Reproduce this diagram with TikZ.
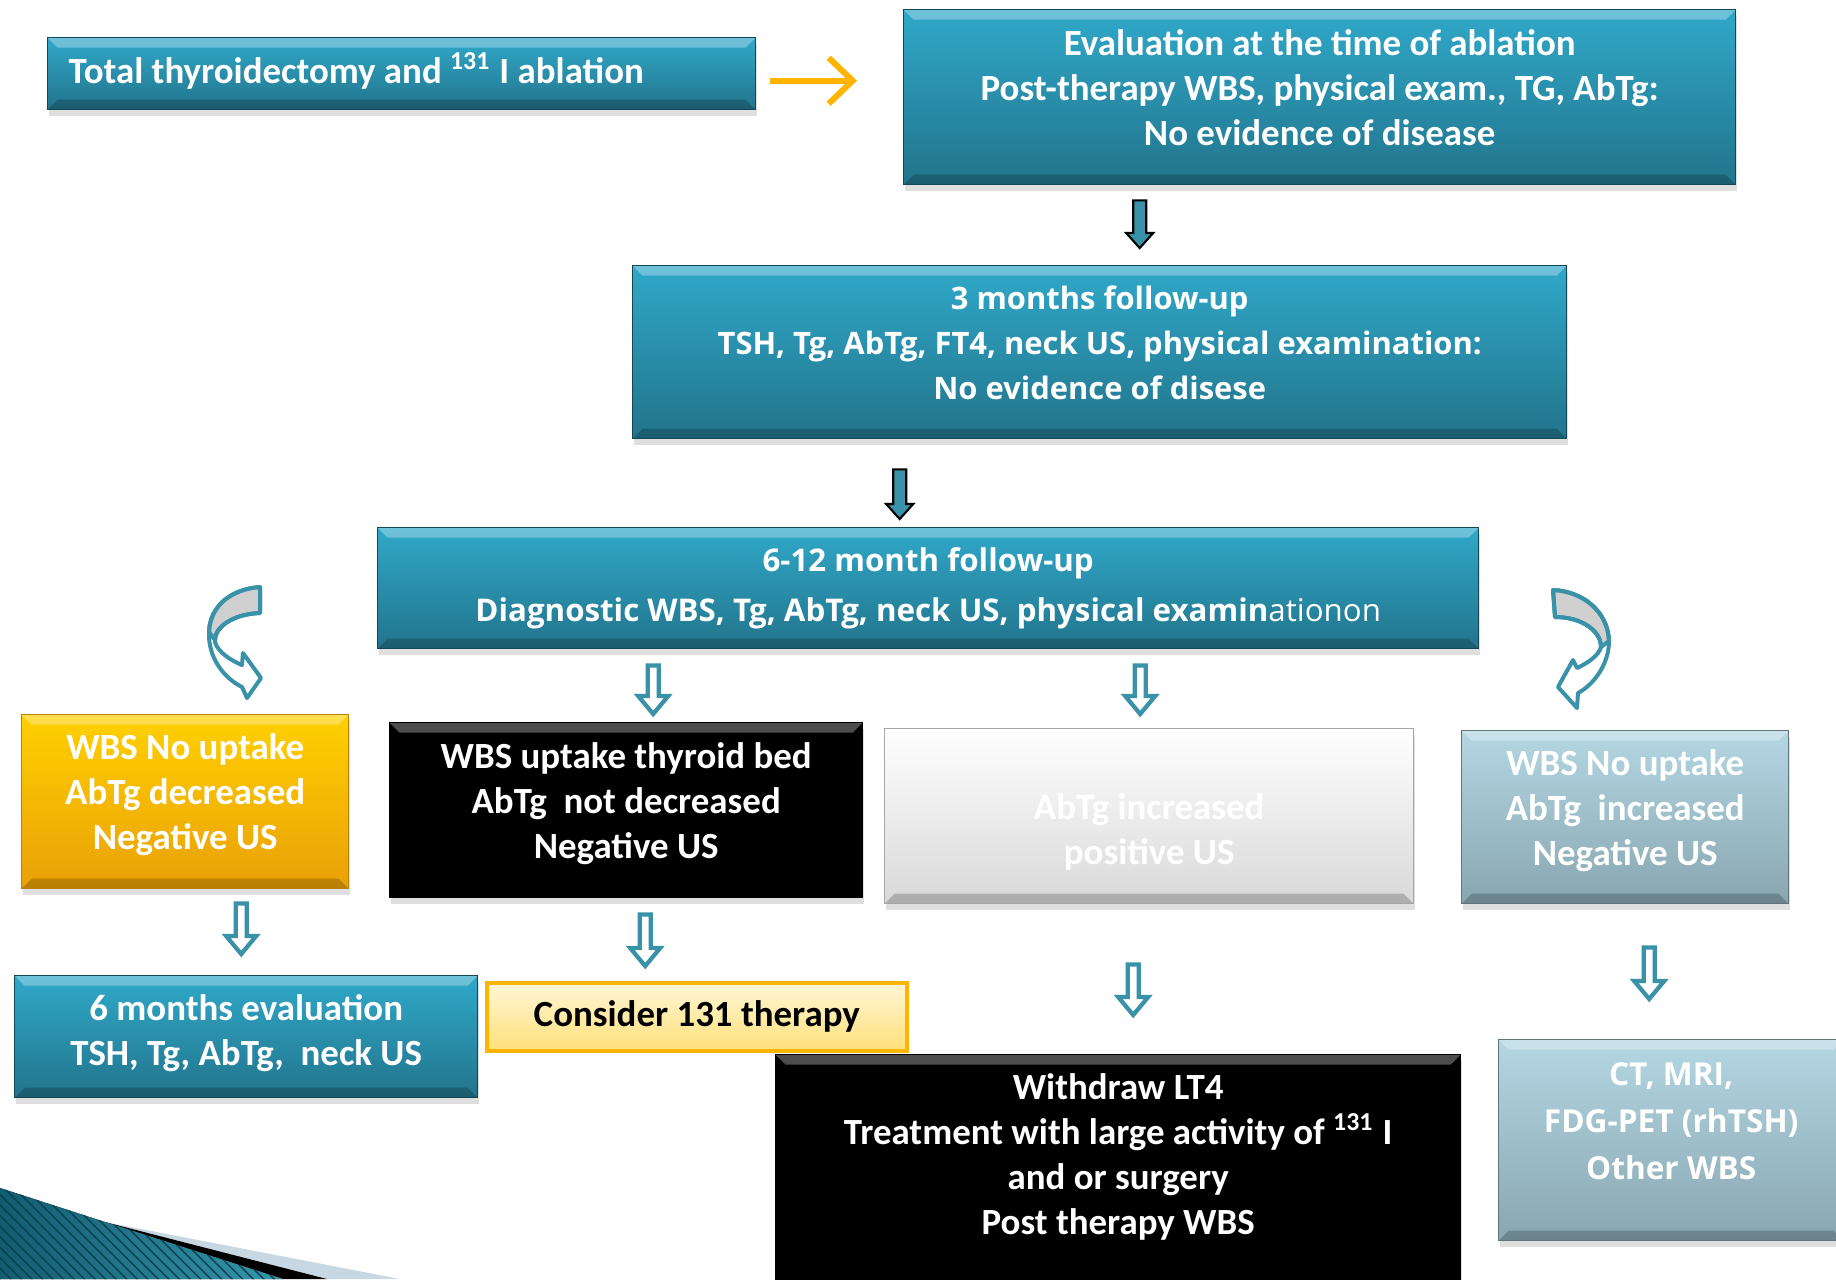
\documentclass[tikz,border=0pt]{standalone}
\usepackage{fontspec}
\setmainfont{Carlito}
\newfontfamily\widefont{Open Sans}
\usetikzlibrary{calc,shadows,patterns,arrows.meta}

\definecolor{tealtop}{RGB}{48,168,201}
\definecolor{tealbot}{RGB}{34,116,139}
\definecolor{tealline}{RGB}{58,146,168}
\definecolor{golden}{RGB}{255,208,0}
\definecolor{goldbot}{RGB}{233,160,8}
\definecolor{slatetop}{RGB}{180,215,227}
\definecolor{slatebot}{RGB}{136,166,176}
\definecolor{paletop}{RGB}{255,246,214}
\definecolor{palebot}{RGB}{255,224,122}
\definecolor{amber}{RGB}{255,180,0}
\definecolor{twistgray}{RGB}{208,208,208}
\definecolor{decodark}{RGB}{18,92,112}
\definecolor{decolight}{RGB}{52,150,172}
\definecolor{mist}{RGB}{200,216,226}

\newcommand\lift[2]{\raisebox{#1}[\height][\depth]{\begin{tabular}{@{}c@{}}#2\end{tabular}}}

\tikzset{
  bevel/.style={path picture={
      \fill[white, opacity=0.3] (path picture bounding box.north west) -- (path picture bounding box.north east)
        -- ([xshift=-1mm,yshift=-1mm]path picture bounding box.north east)
        -- ([xshift=1mm,yshift=-1mm]path picture bounding box.north west) -- cycle;
      \fill[black, opacity=0.2] (path picture bounding box.south west) -- (path picture bounding box.south east)
        -- ([xshift=-1mm,yshift=1mm]path picture bounding box.south east)
        -- ([xshift=1mm,yshift=1mm]path picture bounding box.south west) -- cycle;}},
  box/.style={anchor=north west, align=center, text=white, inner sep=0pt, bevel,
    font=\bfseries\fontsize{10.5}{12.8}\selectfont,
    drop shadow={shadow xshift=0.1mm, shadow yshift=-0.6mm, opacity=0.25}},
  tealbox/.style={box, top color=tealtop, bottom color=tealbot, draw=tealbot!60!black, line width=0.4pt},
  goldbox/.style={box, top color=golden, bottom color=goldbot, draw=goldbot!80!black, line width=0.4pt},
  nightbox/.style={box, fill=black, draw=black},
  snowbox/.style={box, top color=white, bottom color=black!15, draw=black!35, line width=0.4pt},
  slatebox/.style={box, top color=slatetop, bottom color=slatebot, draw=slatebot!70!black, line width=0.4pt},
  notebox/.style={anchor=north west, align=center, inner sep=0pt, top color=paletop, bottom color=palebot,
    draw=amber, line width=1pt, font=\bfseries\fontsize{10.5}{12.8}\selectfont},
  widetext/.style={font=\widefont\bfseries\fontsize{8.8}{12.8}\selectfont},
  nextstep/.style={draw=amber, line width=0.6mm, -{Straight Barb[length=2.4mm,width=4.6mm]}},
  fatarrow/.style 2 args={fill=tealline, draw=black, line width=0.6pt,
    to path={let \p1=(\tikztostart), \p2=(\tikztotarget) in
      (\x1-0.65mm,\y1-#1) -- (\x1+0.65mm,\y1-#1) -- (\x1+0.65mm,\y2+#2+1.5mm)
      -- (\x1+1.35mm,\y2+#2+1.5mm) -- (\x1,\y2+#2) -- (\x1-1.35mm,\y2+#2+1.5mm)
      -- (\x1-0.65mm,\y2+#2+1.5mm) -- cycle}},
  hollowarrow/.style 2 args={fill=white, draw=tealline, line width=1.2pt,
    to path={let \p1=(\tikztostart), \p2=(\tikztotarget) in
      (\x1-0.55mm,\y1-#1) -- (\x1+0.55mm,\y1-#1) -- (\x1+0.55mm,\y2+#2+1.8mm)
      -- (\x1+1.5mm,\y2+#2+1.8mm) -- (\x1,\y2+#2) -- (\x1-1.5mm,\y2+#2+1.8mm)
      -- (\x1-0.55mm,\y2+#2+1.8mm) -- cycle}},
  twist/.style={draw=tealline, line width=0.4mm, line join=round}
}

\begin{document}
\begin{tikzpicture}[x=0.1mm, y=-0.1mm]
        \useasboundingbox (0,0) rectangle (1836,1279);
        \fill[white] (0,0) rectangle (1836,1279);
        \clip (0,0) rectangle (1836,1279);

        \fill[mist] (105,1222) -- (400,1279) -- (327,1279) -- cycle;
        \fill[black] (105,1222) -- (327,1279) -- (283,1279) -- cycle;
        \fill[left color=decodark, right color=decolight] (0,1188) -- (105,1222) -- (283,1279) -- (0,1279) -- cycle;
        \fill[pattern=north west lines, pattern color=decodark!70!black] (0,1188) -- (105,1222) -- (283,1279) -- (0,1279) -- cycle;

        \node[tealbox, text width=66.6mm, inner xsep=2.1mm, minimum height=7.2mm, align=flush left] (ablation) at (47,37)
            {\raisebox{0.25mm}[\height][\depth]{Total thyroidectomy and \textsuperscript{131} I ablation}};
        \node[tealbox, minimum width=83.2mm, minimum height=17.5mm] (atablation) at (903,9)
            {\lift{0.6mm}{Evaluation at the time of ablation\\Post-therapy WBS, physical exam., TG, AbTg:\\No evidence of disease}};
        \node[tealbox, widetext, minimum width=93.4mm, minimum height=17.3mm] (threemonths) at (632,265)
            {\lift{0.7mm}{3 months follow-up\\TSH, Tg, AbTg, FT4, neck US, physical examination:\\No evidence of disese}};
        \node[tealbox, font=\widefont\bfseries\fontsize{8.9}{14}\selectfont, minimum width=110.1mm, minimum height=12.1mm] (sixtwelve) at (377,527)
            {6-12 month follow-up\\Diagnostic WBS, Tg, AbTg, neck US, physical examin{\mdseries ationon}};
        \node[goldbox, minimum width=32.7mm, minimum height=17.4mm] (nouptake) at (21,714)
            {\lift{0.6mm}{WBS No uptake\\AbTg decreased\\Negative US}};
        \node[nightbox, minimum width=47.3mm, minimum height=17.5mm] (bedup) at (389,722)
            {\lift{0.6mm}{WBS uptake thyroid bed\\AbTg\ \ not decreased\\Negative US}};
        \node[snowbox, minimum width=52.9mm, minimum height=17.5mm] (positive) at (884,728)
            {\lift{-1.7mm}{AbTg increased\\positive US}};
        \node[slatebox, minimum width=32.7mm, minimum height=17.3mm] (abtgup) at (1461,730)
            {\lift{0.6mm}{WBS No uptake\\AbTg\ \ increased\\Negative US}};
        \node[tealbox, minimum width=46.3mm, minimum height=12.2mm] (sixmonths) at (14,975)
            {\lift{0.3mm}{6 months evaluation\\TSH, Tg, AbTg,\ \ neck US}};
        \node[notebox, minimum width=42mm, minimum height=6.8mm] (consider) at (485,981)
            {Consider 131 therapy};
        \node[nightbox, minimum width=68.5mm, inner ysep=1.9mm, text depth=18mm] (withdraw) at (775,1054)
            {Withdraw LT4\\Treatment with large activity of \textsuperscript{131} I\\and or surgery\\Post therapy WBS};
        \node[slatebox, font=\widefont\bfseries\fontsize{9}{13.4}\selectfont, minimum width=34.5mm, minimum height=20.1mm] (imaging) at (1498,1039)
            {\lift{1.7mm}{CT, MRI,\\FDG-PET (rhTSH)\\Other WBS}};

        \draw[nextstep, shorten <=1.4mm, shorten >=4.6mm] ([yshift=-0.7mm]ablation.east) -- ([yshift=-0.7mm]ablation.east -| atablation.west);
        \draw[fatarrow={1.5mm}{1.7mm}] ([xshift=-18mm]atablation.south) to (threemonths.north);
        \draw[fatarrow={3mm}{0.8mm}] ([xshift=-20mm]threemonths.south) to (sixtwelve.north);
        \draw[hollowarrow={1.6mm}{0.8mm}] ([xshift=-27.5mm]sixtwelve.south) to (bedup.north);
        \draw[hollowarrow={1.6mm}{1.4mm}] ([xshift=21.2mm]sixtwelve.south) to (positive.north);
        \draw[hollowarrow={1.4mm}{2.1mm}] ([xshift=5.6mm]nouptake.south) to (sixmonths.north);
        \draw[hollowarrow={1.6mm}{1.5mm}] ([xshift=1.9mm]bedup.south) to (consider.north);
        \draw[hollowarrow={6mm}{3.9mm}] ([xshift=-1.6mm]positive.south) to (withdraw.north);
        \draw[hollowarrow={4.3mm}{4mm}] ([xshift=2.4mm]abtgup.south) to (imaging.north);

        \begin{scope}[shift={(180,570)}]
            \fill[white] (80,17) .. controls (52,19) and (30,35) .. (29,62) .. controls (28,88) and (44,108) .. (62,117)
                -- (67,128) -- (81,108) -- (63,83) -- (62,95) .. controls (50,90) and (38,82) .. (35,72)
                .. controls (34,58) and (52,44) .. (80,43) -- cycle;
            \filldraw[twist, fill=twistgray] (80,17) .. controls (52,19) and (30,35) .. (29,62) -- (35,70)
                .. controls (34,58) and (52,44) .. (80,43) -- cycle;
            \draw[twist] (80,17) .. controls (52,19) and (30,35) .. (29,62) .. controls (28,88) and (44,108) .. (62,117)
                -- (67,128) -- (81,108) -- (63,83) -- (62,95) .. controls (50,90) and (38,82) .. (35,72)
                .. controls (34,58) and (52,44) .. (80,43) -- cycle;
        \end{scope}
        \begin{scope}[shift={(1530,575)}]
            \fill[white] (23,15) .. controls (52,16) and (78,36) .. (79,66) .. controls (79,90) and (63,110) .. (48,118)
                -- (47,133) -- (28,112) -- (43,85) -- (47,93) .. controls (58,88) and (69,80) .. (71,72)
                .. controls (71,56) and (52,42) .. (25,42) -- cycle;
            \filldraw[twist, fill=twistgray] (23,15) .. controls (52,16) and (78,36) .. (79,66) -- (71,72)
                .. controls (71,56) and (52,42) .. (25,42) -- cycle;
            \draw[twist] (23,15) .. controls (52,16) and (78,36) .. (79,66) .. controls (79,90) and (63,110) .. (48,118)
                -- (47,133) -- (28,112) -- (43,85) -- (47,93) .. controls (58,88) and (69,80) .. (71,72)
                .. controls (71,56) and (52,42) .. (25,42) -- cycle;
        \end{scope}
    \end{tikzpicture}
\end{document}
